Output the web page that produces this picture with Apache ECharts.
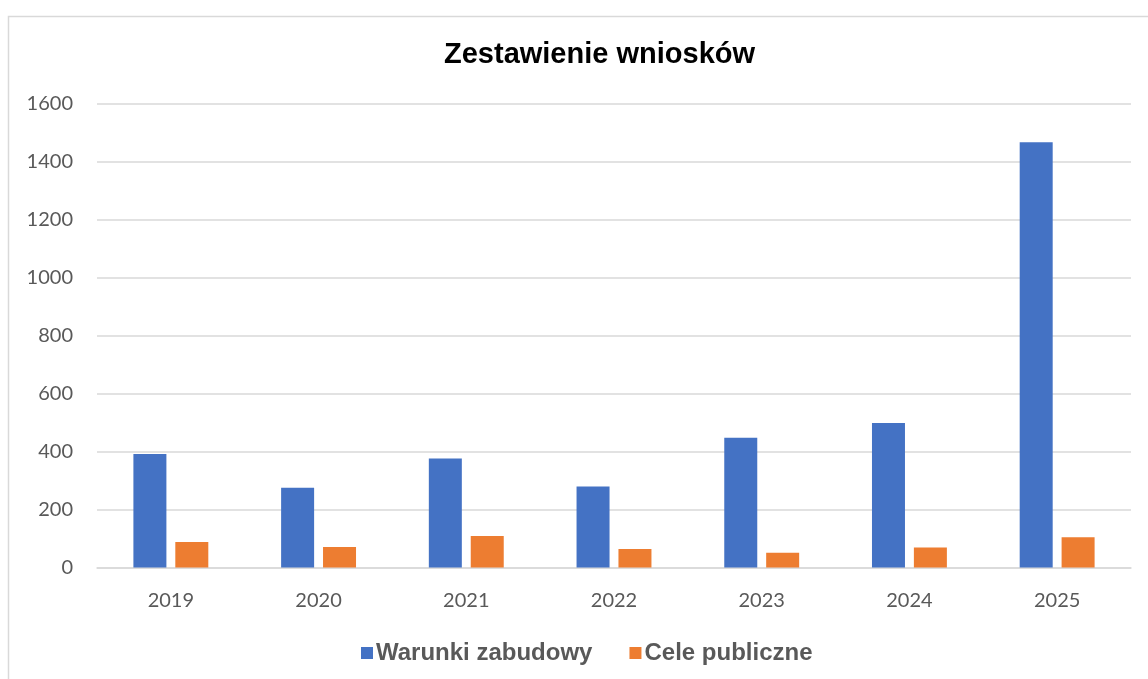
<!DOCTYPE html>
<html>
<head>
<meta charset="utf-8">
<script src="https://cdn.jsdelivr.net/npm/echarts@6/dist/echarts.min.js"></script>
<style>
  html, body { margin: 0; padding: 0; background: #fff; }
  #chart { width: 1148px; height: 679px; }
</style>
</head>
<body>
<div id="chart"></div>
<script>
const years = ['2019', '2020', '2021', '2022', '2023', '2024', '2025'];
const warunkiZabudowy = [391, 275, 376, 279, 447, 498, 1466];
const celePubliczne = [88, 71, 109, 64, 51, 69, 104];

const chart = echarts.init(document.getElementById('chart'));

chart.setOption({
    backgroundColor: '#ffffff',
    animation: false,
    graphic: [{
        type: 'rect',
        shape: { x: 8.5, y: 16.5, width: 1200, height: 700 },
        style: { fill: 'none', stroke: '#d9d9d9', lineWidth: 1.5 },
        silent: true
    }],
    title: {
        text: 'Zestawienie wniosków',
        left: 439,
        top: 35,
        textStyle: {
            color: '#000000',
            fontFamily: 'Liberation Sans',
            fontWeight: 'bold',
            fontSize: 29
        }
    },
    legend: {
        bottom: 9,
        left: 356,
        itemWidth: 12,
        itemHeight: 12,
        itemGap: 37,
        icon: 'rect',
        textStyle: {
            color: '#595959',
            fontFamily: 'Liberation Sans',
            fontWeight: 'bold',
            fontSize: 24,
            padding: [0, 0, 0, -2]
        },
        data: ['Warunki zabudowy', 'Cele publiczne']
    },
    grid: {
        left: 97,
        right: 17,
        top: 103.5,
        bottom: 111.5,
        containLabel: false
    },
    xAxis: {
        type: 'category',
        data: years,
        axisLine: { lineStyle: { color: '#d9d9d9', width: 1.5 } },
        axisTick: { show: false },
        axisLabel: {
            color: '#595959',
            fontFamily: 'Lato',
            fontSize: 20,
            margin: 23
        }
    },
    yAxis: {
        type: 'value',
        min: 0,
        max: 1600,
        interval: 200,
        axisLine: { show: false },
        axisTick: { show: false },
        splitLine: { lineStyle: { color: '#d9d9d9', width: 1.5 } },
        axisLabel: {
            color: '#595959',
            fontFamily: 'Lato',
            fontSize: 20,
            margin: 24,
            formatter: v => String(v)
        }
    },
    series: [{
        name: 'Warunki zabudowy',
        type: 'bar',
        barWidth: 33,
        barGap: '27%',
        itemStyle: { color: '#4472c4' },
        data: warunkiZabudowy
    }, {
        name: 'Cele publiczne',
        type: 'bar',
        barWidth: 33,
        itemStyle: { color: '#ed7d31' },
        data: celePubliczne
    }]
});
</script>
</body>
</html>
